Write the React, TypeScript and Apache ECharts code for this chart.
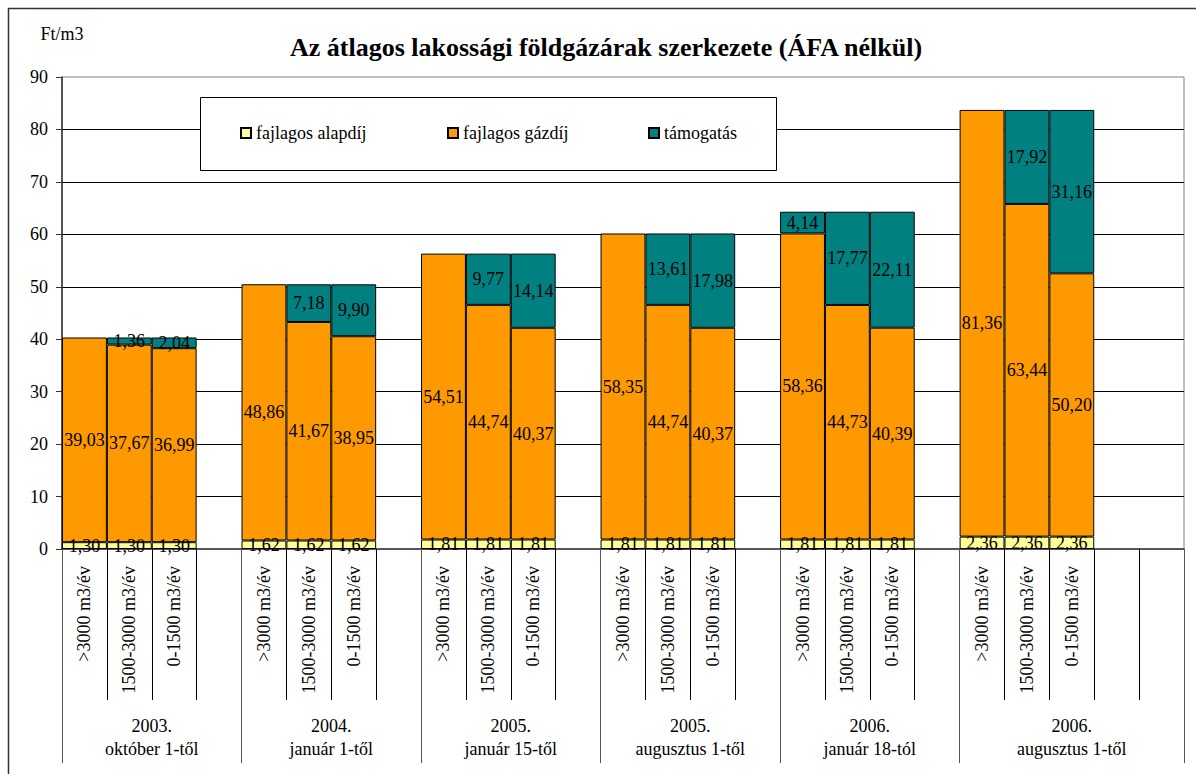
import React, { useEffect, useRef } from "react";
import * as echarts from "echarts";

const FONT = "'Liberation Serif', 'Times New Roman', serif";

const titleText = "Az átlagos lakossági földgázárak szerkezete (ÁFA nélkül)";
const unitLabel = "Ft/m3";

const groupLabels = [
  "2003.\noktóber 1-től",
  "2004.\njanuár 1-től",
  "2005.\njanuár 15-től",
  "2005.\naugusztus 1-től",
  "2006.\njanuár 18-tól",
  "2006.\naugusztus 1-től",
];
const bandLabels = [">3000 m3/év", "1500-3000 m3/év", "0-1500 m3/év"];
const seriesNames = ["fajlagos alapdíj", "fajlagos gázdíj", "támogatás"];
const seriesColors = ["#FFFF99", "#FF9900", "#008080"];

const alapdij = [
  1.3, 1.3, 1.3,
  1.62, 1.62, 1.62,
  1.81, 1.81, 1.81,
  1.81, 1.81, 1.81,
  1.81, 1.81, 1.81,
  2.36, 2.36, 2.36,
];
const gazdij = [
  39.03, 37.67, 36.99,
  48.86, 41.67, 38.95,
  54.51, 44.74, 40.37,
  58.35, 44.74, 40.37,
  58.36, 44.73, 40.39,
  81.36, 63.44, 50.2,
];
const tamogatas: (number | null)[] = [
  null, 1.36, 2.04,
  null, 7.18, 9.9,
  null, 9.77, 14.14,
  null, 13.61, 17.98,
  4.14, 17.77, 22.11,
  null, 17.92, 31.16,
];

const yTicks = { min: 0, max: 90, interval: 10 };

// blank slots after each group (last group has two)
const blanksAfter = [1, 1, 1, 1, 1, 2];

function buildCategories() {
  const cats: string[] = [];
  const idx: (number | null)[] = [];
  groupLabels.forEach((_, g) => {
    bandLabels.forEach((b, k) => {
      cats.push(b);
      idx.push(g * 3 + k);
    });
    for (let i = 0; i < blanksAfter[g]; i++) {
      cats.push("");
      idx.push(null);
    }
  });
  return { cats, idx };
}

function buildGroupAxis(nCats: number) {
  // half-band positions (boundaryGap false): 2*nCats + 1 points
  const data: string[] = new Array(nCats * 2 + 1).fill("");
  const bounds: number[] = [0];
  let pos = 0;
  groupLabels.forEach((lab, g) => {
    const span = 3 + blanksAfter[g];
    data[pos * 2 + span] = lab;
    pos += span;
    bounds.push(pos * 2);
  });
  return { data, bounds };
}

const fmt = (v: number) => v.toFixed(2).replace(".", ",");

export default function App() {
  const ref = useRef<HTMLDivElement>(null);
  useEffect(() => {
    if (!ref.current) return;
    const chart = echarts.init(ref.current, undefined, { renderer: "svg" });
    const { cats, idx } = buildCategories();
    const groupAxis = buildGroupAxis(cats.length);
    const pick = (arr: (number | null)[]) => idx.map((i) => (i == null ? null : arr[i]));
    const values = [pick(alapdij), pick(gazdij), pick(tamogatas)];

    const legendLefts = [240, 447, 648];

    chart.setOption({
      animation: false,
      textStyle: { fontFamily: FONT },
      title: {
        text: titleText,
        left: 606,
        textAlign: "center",
        top: 34,
        padding: 0,
        textStyle: { fontFamily: FONT, fontSize: 26, fontWeight: "bold", color: "#000" },
      },
      legend: seriesNames.map((n, i) => ({
        data: [n],
        left: legendLefts[i],
        top: 124,
        padding: 0,
        itemWidth: 10,
        itemHeight: 10,
        icon: "rect",
        z: 6,
        textStyle: { fontFamily: FONT, fontSize: 18, color: "#000" },
        selectedMode: false,
      })),
      graphic: [
        {
          type: "rect",
          z: -1,
          shape: { x: 8.5, y: 8.5, width: 1300, height: 900 },
          style: { fill: "none", stroke: "#333", lineWidth: 1.5 },
          silent: true,
        },
        {
          type: "rect",
          z: 5,
          shape: { x: 200.5, y: 97.5, width: 576, height: 73 },
          style: { fill: "#fff", stroke: "#000", lineWidth: 1 },
          silent: true,
        },
      ],
      grid: {
        left: 62,
        right: 12,
        top: 77,
        bottom: 225,
        show: true,
        borderColor: "#808080",
        borderWidth: 1,
        backgroundColor: "transparent",
        containLabel: false,
      },
      xAxis: [
        {
          type: "category",
          data: cats,
          position: "bottom",
          axisLine: { show: true, lineStyle: { color: "#333", width: 1.5 } },
          axisTick: { show: true, interval: 0, length: 151, lineStyle: { color: "#000", width: 1 } },
          axisLabel: {
            interval: 0,
            rotate: 90,
            margin: 17,
            fontFamily: FONT,
            fontSize: 18,
            color: "#000",
          },
          splitLine: { show: false },
        },
        {
          type: "category",
          data: groupAxis.data,
          boundaryGap: false,
          position: "bottom",
          axisLine: { show: false },
          axisTick: {
            show: true,
            interval: (i: number) => groupAxis.bounds.indexOf(i) >= 0,
            length: 214,
            lineStyle: { color: "#555", width: 1 },
          },
          axisLabel: {
            interval: 0,
            margin: 165,
            fontFamily: FONT,
            fontSize: 18,
            lineHeight: 23,
            color: "#000",
          },
          splitLine: { show: false },
        },
      ],
      yAxis: {
        type: "value",
        min: yTicks.min,
        max: yTicks.max,
        interval: yTicks.interval,
        name: unitLabel,
        nameLocation: "end",
        nameGap: 34,
        nameTextStyle: { fontFamily: FONT, fontSize: 18, color: "#000", align: "center" },
        axisLine: { show: true, lineStyle: { color: "#333", width: 1.5 } },
        axisTick: { show: true, length: 6, lineStyle: { color: "#333" } },
        axisLabel: { margin: 14, fontFamily: FONT, fontSize: 18, color: "#000" },
        splitLine: { show: true, showMinLine: false, showMaxLine: false, lineStyle: { color: "#000", width: 1 } },
      },
      series: seriesNames.map((n, i) => ({
        name: n,
        type: "bar",
        stack: "total",
        xAxisIndex: 0,
        barCategoryGap: "0%",
        data: values[i],
        itemStyle: { color: seriesColors[i], borderColor: "#000", borderWidth: 1 },
        label: {
          show: true,
          position: "inside",
          fontFamily: FONT,
          fontSize: 18,
          color: "#000",
          textBorderWidth: 0,
          formatter: (p: any) => (p.value == null ? "" : fmt(p.value)),
        },
        emphasis: { disabled: true },
      })),
    });
    return () => chart.dispose();
  }, []);
  return (
    <div
      ref={ref}
      style={{ position: "absolute", left: 0, top: 0, width: 1196, height: 774, background: "#fff" }}
    />
  );
}
